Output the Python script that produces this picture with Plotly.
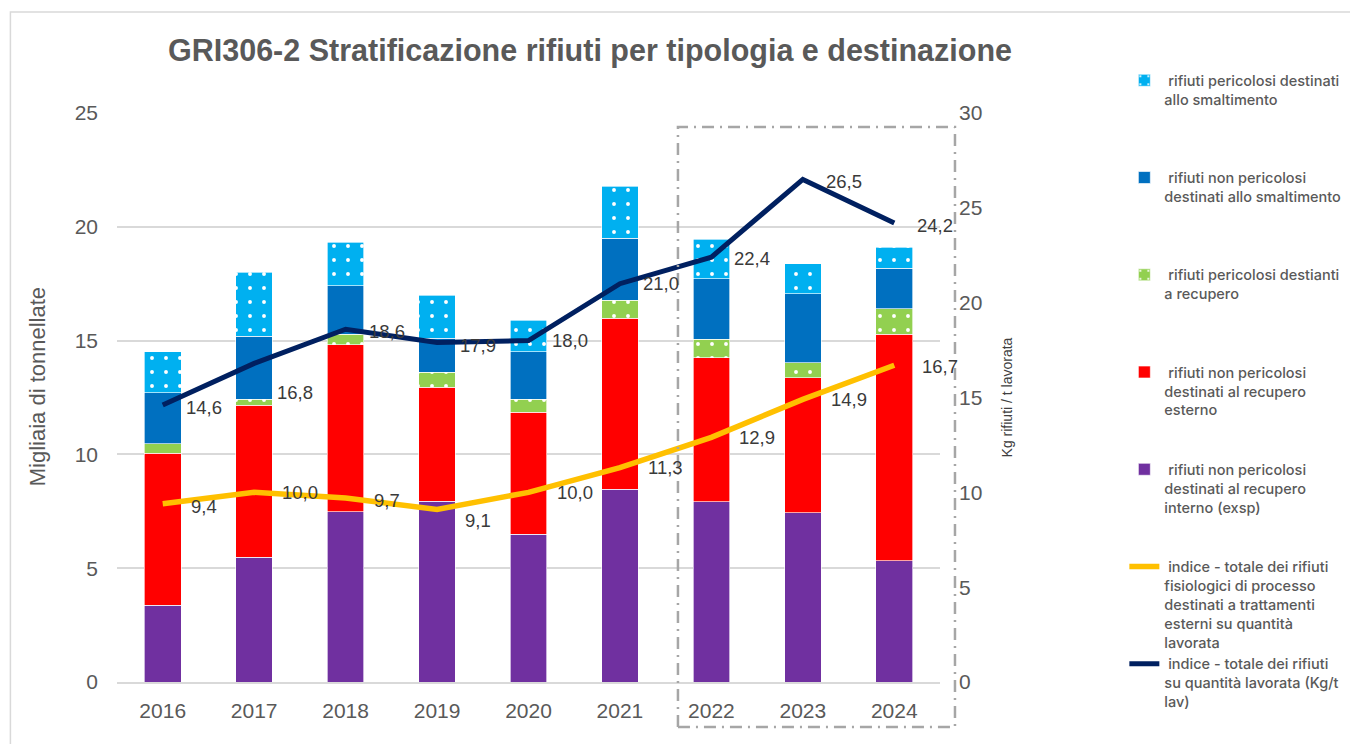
import plotly.graph_objects as go

years = ["2016", "2017", "2018", "2019", "2020", "2021", "2022", "2023", "2024"]

# Stacked bars (migliaia di tonnellate)
np_recupero_interno = [3.38, 5.49, 7.47, 7.95, 6.50, 8.48, 7.91, 7.43, 5.32]
np_recupero_esterno = [6.68, 6.68, 7.34, 5.01, 5.36, 7.51, 6.33, 5.93, 9.97]
p_recupero = [0.40, 0.26, 0.48, 0.66, 0.57, 0.79, 0.83, 0.66, 1.10]
np_smaltimento = [2.24, 2.77, 2.11, 1.49, 2.07, 2.72, 2.64, 3.03, 1.80]
p_smaltimento = [1.80, 2.80, 1.93, 1.89, 1.40, 2.29, 1.75, 1.32, 0.92]

# Indices (Kg rifiuti / t lavorata)
indice_fisiologici = [9.4, 10.0, 9.7, 9.1, 10.0, 11.3, 12.9, 14.9, 16.7]
indice_totale = [14.6, 16.8, 18.6, 17.9, 18.0, 21.0, 22.4, 26.5, 24.2]

names = {
    "p_sm": " rifiuti pericolosi destinati<br>allo smaltimento",
    "np_sm": " rifiuti non pericolosi<br>destinati allo smaltimento",
    "p_rec": " rifiuti pericolosi destianti<br>a recupero",
    "np_est": " rifiuti non pericolosi<br>destinati al recupero<br>esterno",
    "np_int": " rifiuti non pericolosi<br>destinati al recupero<br>interno (exsp)",
    "ind_f": " indice - totale dei rifiuti<br>fisiologici di processo<br>destinati a trattamenti<br>esterni su quantità<br>lavorata",
    "ind_t": " indice - totale dei rifiuti<br>su quantità lavorata (Kg/t<br>lav)",
}


def pad(t, n=5):
    k = t.count("<br>") + 1
    return t + "<br> " * (n - k)


LIGHTBLUE = "#00B0F0"
BLUE = "#0070C0"
GREEN = "#92D050"
RED = "#FF0000"
PURPLE = "#7030A0"
YELLOW = "#FFC000"
NAVY = "#002060"

FONT = "Liberation Sans, Arial, sans-serif"

fig = go.Figure()

dot = dict(shape=".", fgcolor="white", size=14, solidity=0.06, fillmode="replace")

bar_specs = [
    (np_recupero_interno, PURPLE, names["np_int"], 5, None),
    (np_recupero_esterno, RED, names["np_est"], 4, None),
    (p_recupero, GREEN, names["p_rec"], 3, dot),
    (np_smaltimento, BLUE, names["np_sm"], 2, None),
    (p_smaltimento, LIGHTBLUE, names["p_sm"], 1, dot),
]
for vals, col, nm, rank, pat in bar_specs:
    marker = dict(color=col, line=dict(color="rgba(255,255,255,0.8)", width=0.8))
    if pat is not None:
        marker["pattern"] = dict(pat, bgcolor=col)
    fig.add_trace(go.Bar(x=years, y=vals, name=pad(nm), marker=marker,
                         legendrank=rank, yaxis="y"))

fig.add_trace(go.Scatter(x=years, y=indice_fisiologici, name=pad(names["ind_f"]),
                         mode="lines", line=dict(color=YELLOW, width=5.5),
                         yaxis="y2", legendrank=6))
fig.add_trace(go.Scatter(x=years, y=indice_totale, name=names["ind_t"],
                         mode="lines", line=dict(color=NAVY, width=5),
                         yaxis="y2", legendrank=7))

lab_font = dict(family=FONT, size=18.5, color="#3A3A3A")
yshift_f = [-3, 0, -2, -11, 0, 0, 0, 0, -1]
yshift_t = [-2, -29, -2, -3, 0, 0, -1, -2, -2]
# category axis: annotation x given as category index
for i, (v, ys) in enumerate(zip(indice_fisiologici, yshift_f)):
    fig.add_annotation(x=i, y=v, xref="x", yref="y2", text=f"{v:.1f}".replace(".", ","),
                       showarrow=False, xanchor="left", yanchor="middle",
                       xshift=26, yshift=ys, font=lab_font)
for i, (v, ys) in enumerate(zip(indice_totale, yshift_t)):
    fig.add_annotation(x=i, y=v, xref="x", yref="y2", text=f"{v:.1f}".replace(".", ","),
                       showarrow=False, xanchor="left", yanchor="middle",
                       xshift=21, yshift=ys, font=lab_font)

# left axis title
fig.add_annotation(text="Migliaia di tonnellate", xref="paper", yref="paper",
                   x=-0.0956, y=0.5185, textangle=-90, showarrow=False,
                   xanchor="center", yanchor="middle",
                   font=dict(family=FONT, size=22, color="#595959"))

# outer chart border
fig.add_shape(type="rect", xref="paper", yref="paper", x0=-0.1295, x1=1.6,
              y0=-0.2, y1=1.1775, line=dict(color="#D9D9D9", width=1.5), layer="below")
# dash-dot box around 2022-2024
fig.add_shape(type="rect", xref="paper", yref="paper", x0=0.6816, x1=1.0182,
              y0=-0.0791, y1=0.9754,
              line=dict(color="#A6A6A6", width=2.5, dash="12px,6px,2px,6px"))

tick_font = dict(family=FONT, size=21, color="#595959")

fig.update_layout(
    width=1350, height=736,
    margin=dict(l=109, r=415, t=105, b=62),
    paper_bgcolor="white", plot_bgcolor="white",
    font=dict(family=FONT, color="#595959"),
    title=dict(text="<b>GRI306-2 Stratificazione rifiuti per tipologia e destinazione</b>",
               x=0.4311, xref="container", xanchor="center",
               y=1 - 42 / 736, yref="container", yanchor="middle",
               font=dict(size=30.5, color="#595959")),
    barmode="stack", bargap=0.6,
    showlegend=True,
    legend=dict(x=1.224, y=1.0855, xanchor="left", yanchor="top",
                traceorder="normal", valign="top", maxheight=736,
                font=dict(family="Inter, Liberation Sans, sans-serif", size=14.5,
                          color="#595959", weight=500),
                bgcolor="rgba(0,0,0,0)"),
    xaxis=dict(type="category", range=[-0.5, 8.5], showgrid=False, showline=True,
               linecolor="#D9D9D9", linewidth=1.5, tickfont=tick_font, ticks="",
               ticklabelstandoff=9),
    yaxis=dict(range=[0, 25], dtick=5, showgrid=True, gridcolor="#D9D9D9", gridwidth=1.5,
               zeroline=False, tickfont=tick_font, ticks="", ticklabelstandoff=18),
    yaxis2=dict(range=[0, 30], dtick=5, overlaying="y", side="right", showgrid=False,
                zeroline=False, tickfont=tick_font, ticks="", ticklabelstandoff=18,
                title=dict(text="Kg rifiuti / t lavorata",
                           font=dict(size=14, color="#404040"), standoff=20)),
)

fig.write_html("out.html")
